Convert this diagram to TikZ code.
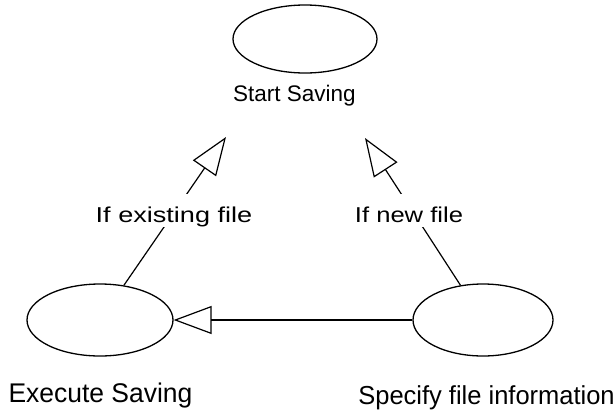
\documentclass[tikz,border=0pt]{standalone}
\usepackage{fontspec}
\setmainfont{Liberation Sans}
\usetikzlibrary{arrows.meta,shapes.geometric}
\begin{document}
\begin{tikzpicture}[x=1pt,y=-1pt,
  usecase/.style={draw, ellipse, line width=1.3pt, inner sep=0pt},
  rel/.style={line width=1.2pt, -{Triangle[open,length=38pt,width=28pt,line width=1.2pt]}},
  lbl/.style={inner sep=0pt, anchor=base},
  gaplbl/.style={fill=white, inner xsep=2pt, inner ysep=0pt, anchor=base, text height=28pt, text depth=5pt}]
\useasboundingbox[fill=white] (0,0) rectangle (615,410);
\node[usecase, minimum width=144pt, minimum height=68pt] (start) at (305,39) {};
\node[usecase, minimum width=146pt, minimum height=72pt] (exec) at (100,320) {};
\node[usecase, minimum width=140pt, minimum height=72pt] (spec) at (483,320) {};
\coordinate (tipL) at (226,137);
\coordinate (tipR) at (365,138);
\draw[rel] (spec) -- (exec);
\draw[rel] (exec) -- (tipL);
\draw[rel] (spec) -- (tipR);
\node[lbl] (startlbl) at (294.5,101) {\fontsize{22.5}{26}\selectfont\scalebox{1.0}[1]{Start Saving}};
\node[lbl] (execlbl) at (100.5,402) {\fontsize{27}{31}\selectfont\scalebox{0.98}[1]{Execute Saving}};
\node[lbl] (speclbl) at (486.5,404) {\fontsize{26}{30}\selectfont\scalebox{0.98}[1]{Specify file information}};
\node[gaplbl] (existlbl) at (174,222) {\fontsize{21.5}{25}\selectfont\scalebox{1.26}[1]{If existing file}};
\node[gaplbl] (newlbl) at (409,222) {\fontsize{21.5}{25}\selectfont\scalebox{1.19}[1]{If new file}};
\end{tikzpicture}
\end{document}
